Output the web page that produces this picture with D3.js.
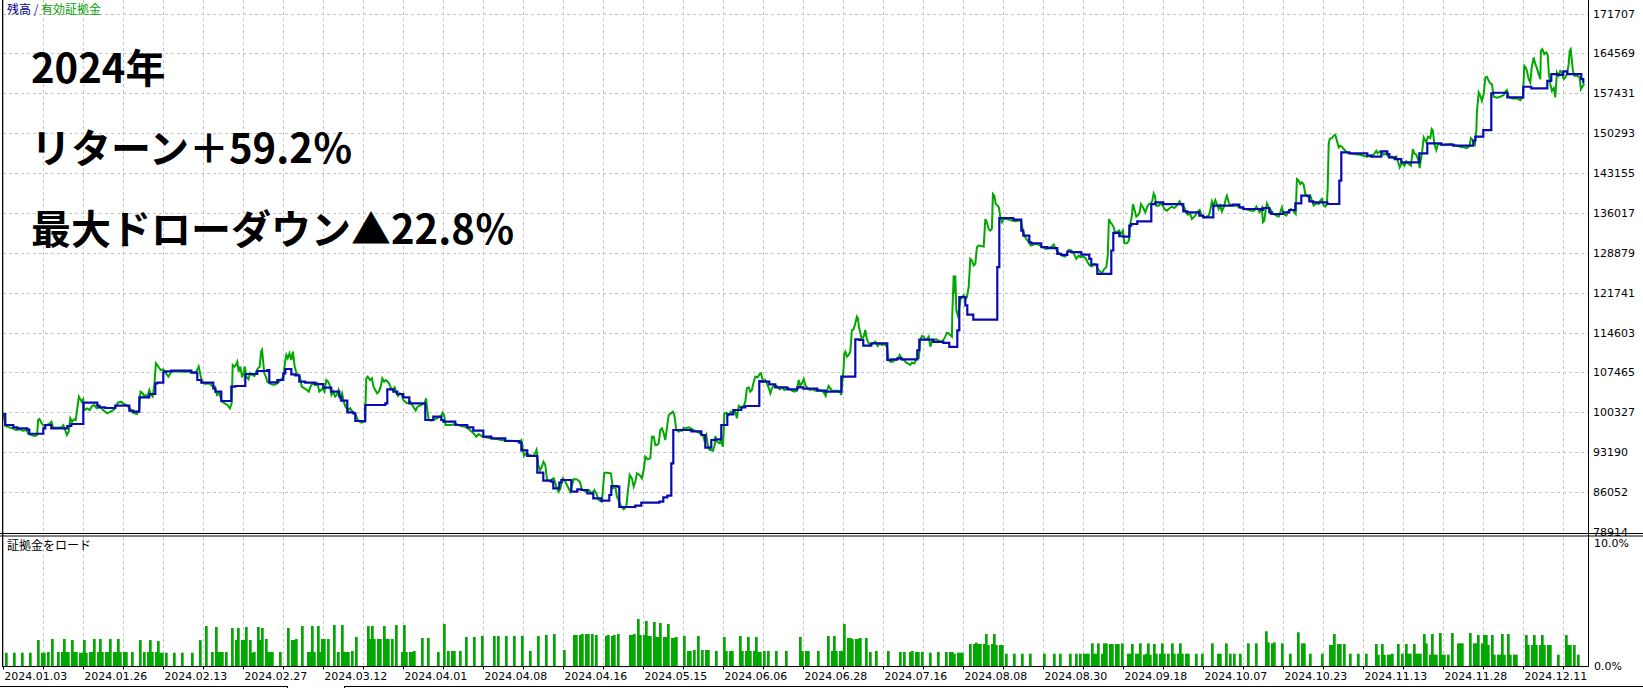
<!DOCTYPE html>
<html><head><meta charset="utf-8">
<script src="https://cdn.jsdelivr.net/npm/d3@7/dist/d3.min.js"></script>
<style>
html,body{margin:0;padding:0;background:#fff;}
svg{display:block;}
</style></head>
<body>
<svg id="chart" width="1643" height="688"></svg>
<script>
// ---------------- data ----------------
const totalDeals = 793;
const dateLabels = ["2024.01.03","2024.01.26","2024.02.13","2024.02.27","2024.03.12","2024.04.01","2024.04.08","2024.04.16","2024.05.15","2024.06.06","2024.06.28","2024.07.16","2024.08.08","2024.08.30","2024.09.18","2024.10.07","2024.10.23","2024.11.13","2024.11.28","2024.12.11"];
const dealsPerLabel = 40;
const dealsPerGrid = 20;
const yTickValues = [171707,164569,157431,150293,143155,136017,128879,121741,114603,107465,100327,93190,86052,78914];
const loadTickValues = [0,10];
const loadTickLabels = ["0.0%","10.0%"];
const headline = ["2024年","リターン＋59.2％","最大ドローダウン▲22.8％"];
const legendBalance = "残高";
const legendEquity = "有効証拠金";
const loadTitle = "証拠金をロード";

// balance: [deal, value] (step after)
const balance = [[0,100000],[1,98070],[5,97650],[7,97470],[12,97230],[13,96500],[20,97470],[21,98070],[24,97470],[32,97890],[34,98250],[40,102060],[47,101530],[48,101230],[51,101110],[56,101530],[63,100630],[65,100450],[68,103020],[73,103620],[76,105530],[77,105640],[80,107550],[81,107670],[84,107790],[94,107430],[97,106120],[99,105640],[105,104630],[106,104030],[109,102360],[114,104930],[116,105050],[121,107200],[127,107730],[132,107910],[133,105700],[137,106120],[140,107310],[141,108090],[144,107140],[146,106960],[148,105820],[151,105640],[156,105400],[160,104750],[164,104030],[168,103140],[169,102420],[172,100330],[175,100150],[176,98780],[181,101650],[191,101950],[192,104450],[195,104030],[197,103620],[200,103020],[203,101950],[211,98960],[215,99560],[219,98960],[220,98660],[226,98070],[232,97650],[235,97050],[240,95980],[244,95680],[251,95200],[258,94900],[259,93530],[262,92520],[267,89530],[270,88100],[274,87920],[275,86730],[278,87740],[279,88220],[284,86130],[287,86550],[289,86430],[292,85830],[295,84940],[299,84520],[303,85540],[304,87150],[307,87030],[308,83390],[316,83630],[319,84160],[328,84340],[330,85120],[332,85420],[334,91200],[335,97170],[344,96930],[349,96280],[351,94010],[354,95380],[356,95500],[359,98070],[362,99980],[365,100750],[369,101230],[371,101470],[378,105940],[379,105820],[383,105350],[386,104810],[392,104450],[397,104810],[400,104570],[407,104210],[411,104030],[419,106720],[426,113400],[428,113280],[430,112270],[434,112690],[442,109700],[444,109820],[447,110000],[449,109800],[457,111450],[458,113360],[465,112940],[470,112760],[473,112050],[477,115020],[478,120970],[481,119480],[482,117820],[485,116920],[497,126320],[498,135120],[505,134830],[509,132870],[510,131970],[513,130780],[514,130600],[519,129890],[522,129710],[527,128700],[529,128520],[532,129120],[534,129000],[539,128580],[543,127810],[544,126800],[547,125130],[554,129300],[555,132450],[558,131850],[560,131790],[563,133760],[564,134050],[567,134530],[574,137620],[576,137920],[580,137620],[590,136320],[592,136140],[598,135540],[600,135240],[605,137330],[615,137500],[618,137030],[620,136730],[629,136550],[630,136910],[633,136140],[634,135840],[640,136140],[643,136550],[646,137740],[649,139120],[653,138100],[655,137920],[662,137630],[668,141800],[669,146860],[673,146690],[682,146270],[684,146090],[689,147040],[692,146570],[693,145970],[696,145670],[699,145080],[708,146690],[712,148470],[719,148240],[725,148060],[735,148950],[736,149670],[740,150860],[744,157420],[745,157540],[752,156700],[760,158610],[764,158310],[772,159680],[774,160870],[777,160750],[780,161350],[782,160870],[789,159980],[790,159200]];

// equity: [deal, value]
const equity = [[0,100000],[0.5,99260],[1.1,97890],[2.9,97650],[4.6,97470],[6.4,97170],[8.1,97290],[9.9,97050],[11.6,97170],[12.5,96460],[14.3,96220],[16,96100],[16.9,96280],[17.4,98960],[18.1,99140],[19.2,98370],[20.4,97890],[23,98250],[24.1,98660],[24.8,97650],[26.5,97590],[29.2,97650],[30,98010],[30.9,97170],[31.8,96280],[32.7,96870],[33.5,99260],[34.4,98660],[35.3,99080],[36.2,98960],[37.1,101350],[37.8,103140],[38.5,102660],[39.2,102240],[39.9,102660],[40.6,100750],[42,101050],[43.2,100750],[44.4,101470],[45.5,101650],[46.7,101050],[48.4,101350],[50.2,100630],[52,100160],[53.7,100450],[55.5,100870],[57.2,102060],[59,102240],[59.8,101950],[61.6,101650],[63.3,101050],[64.7,100270],[66.8,100040],[67.9,100750],[68.6,104030],[69.5,103850],[70.4,103260],[71.2,103440],[72.1,103140],[73,104330],[73.9,103440],[74.7,103140],[75.6,105530],[76.3,109110],[77,108810],[77.7,108390],[78.8,107910],[80,108030],[81.7,107140],[82.6,106720],[83.5,107320],[84.4,107610],[86.1,107670],[89.6,107610],[93.1,107610],[95.8,107440],[97,107910],[97.7,108510],[98.4,107320],[99.3,105820],[101,105410],[102.8,105530],[104.5,105050],[105.8,104930],[106.8,103440],[108,103740],[109.3,102240],[110.7,101950],[112.1,101650],[113.3,101050],[114.2,101950],[114.7,108810],[115.6,108510],[116.3,108810],[117,109400],[117.7,107610],[118.5,108510],[119.4,106600],[120.1,107320],[120.8,108510],[121.5,106720],[122.6,106240],[123.3,107320],[124.3,107020],[125.6,106840],[126.4,107610],[127.3,108210],[128.2,108510],[128.9,111190],[129.4,111490],[130,109110],[130.5,107320],[131.3,106720],[132,105820],[133.1,105530],[135.2,105230],[137,105530],[138.7,106120],[140.1,106720],[140.8,109110],[141.5,110600],[142.2,110000],[143.1,110900],[144,109700],[144.8,111190],[145.7,108510],[146.6,107320],[147.5,107020],[148.3,106720],[149.2,104930],[150.6,104630],[151.8,104330],[152.7,104030],[153.6,104930],[154.5,105530],[155.9,105230],[157.1,105530],[158,104030],[158.9,104330],[159.7,104630],[160.6,104030],[161.5,106120],[162.4,105820],[163.2,105230],[164.1,103440],[165,104030],[165.9,103140],[166.7,103440],[167.6,104330],[168.5,102840],[169.4,103740],[170.2,102240],[171.1,101350],[172.4,100750],[173.4,101050],[174.6,100450],[175.9,100040],[177.3,98960],[179,98480],[180.8,98660],[181.5,106420],[182.2,106720],[183.4,106120],[184.3,106420],[185.1,104930],[186,104330],[186.9,103740],[187.8,104030],[188.7,104930],[189.5,106420],[190.4,105820],[191.3,106120],[192.7,105640],[193.9,104630],[194.8,104330],[195.7,104810],[196.5,103740],[197.4,103260],[198.3,103740],[199.2,103440],[200,102540],[201.8,101950],[203.5,102240],[205,101350],[206.2,100630],[207.1,101350],[208.8,101650],[210.6,101950],[211.4,102840],[212,100750],[212.7,98960],[214.1,98840],[215.8,99080],[217.6,99440],[219,99680],[219.7,100270],[220.4,99860],[221.1,98070],[223.7,98070],[226.3,98250],[229,97890],[231.6,97650],[233.3,97170],[235.1,96580],[236.5,95980],[237.7,96460],[239.5,95980],[241.2,95860],[243.9,95680],[247.4,95500],[250.9,95260],[254.4,95260],[257.9,95080],[259,95380],[259.6,94310],[260.3,92520],[261.4,92990],[263.1,92700],[264.9,92520],[265.9,92990],[266.6,93590],[267.5,90910],[268.4,90010],[269.3,90610],[270.1,91500],[271,90910],[271.9,88220],[273.3,88040],
[274.3,88340],[275.2,88520],[276,87620],[276.8,86730],[277.7,86130],[278.5,86730],[279.8,88520],[281,87920],[283.5,86130],[285.2,88400],[286.8,88340],[288.2,87920],[289.3,86550],[291,86130],[292.7,86430],[294.3,85830],[295.5,86430],[296.5,85830],[297.7,84640],[299.3,84340],[300.5,89530],[301.8,89530],[303.8,89410],[304.8,86730],[306,87030],[306.8,85240],[307.7,84640],[308.5,83750],[310.2,82970],[311.5,83450],[312.2,85830],[313.2,89120],[314.3,88520],[315.2,87030],[316,87920],[316.8,89410],[318.2,89120],[319.3,88520],[320.2,90010],[321,92400],[322.2,91920],[323.5,92100],[324.3,95980],[325.2,95980],[326,94490],[326.8,94490],[327.7,94780],[328.5,97170],[329.3,97470],[330.2,96570],[331,95380],[331.8,97470],[332.7,99860],[333.8,100150],[334.8,100450],[335.5,99860],[336.5,97170],[337.7,96870],[338.5,97170],[339.3,97050],[340.2,97590],[341,97470],[342.7,97650],[343.8,97470],[345.2,97170],[346.8,96870],[348.5,96570],[349.8,96280],[350.5,95380],[351.5,96280],[352.2,94490],[353.2,93590],[353.8,93590],[354.8,93470],[355.7,94490],[356,96100],[356.8,95080],[358.2,94780],[358.8,95380],[359.8,94190],[360.2,96870],[360.5,100150],[361.5,100270],[362.7,99860],[363.8,100450],[364.8,100150],[366,100450],[366.8,99260],[367.7,101470],[368.5,101230],[370.2,101470],[371,102240],[371.8,104630],[372.7,104810],[373.5,104030],[374.3,104330],[375.2,105820],[376,106720],[377.2,106600],[378.2,107200],[378.8,107320],[379.5,106420],[380.2,105820],[381,106120],[381.8,105530],[382.8,104630],[383.5,103730],[384.3,104630],[385.5,105230],[386.8,105050],[388.2,104450],[389.3,104810],[390.5,104330],[391.8,104630],[392.8,104630],[394.3,104210],[395.5,104030],[396.8,104210],[397.7,106120],[398.5,105050],[399.5,105650],[400.2,106300],[401,105230],[401.8,104810],[403.2,104330],[404.8,104450],[406,104210],[407.7,104330],[409.3,104210],[410.5,103730],[411.2,103260],[411.8,104210],[412.7,105050],[413.5,104630],[414.3,104210],[416,104210],[417.7,104210],[418.5,103850],[419,103440],[419.5,105650],[420.2,108510],[420.5,110900],[421,111190],[421.8,110300],[422.7,110600],[423.5,111190],[424.3,115070],[425.2,115190],[426,116270],[426.8,117460],[427.3,117160],[427.8,115670],[428.5,114480],[429.3,113400],[430.2,113880],[431,115070],[431.8,113400],[432.7,112690],[433.5,112390],[434.8,112690],[436,112980],[437.2,112210],[438.2,112690],[439.3,112390],[440.5,112570],[441.8,112090],[442.7,109700],[443.5,109400],[444.8,109400],[446,109700],[447.2,109820],[448.2,110600],[448.8,110180],[450.2,109700],[451.5,109220],[452.7,108990],[453.5,108810],[454.3,109220],[455.5,109100],[456.5,109820],[457.7,110000],[458.5,113280],[459.3,114000],[460.2,113880],[461,113280],[461.8,113400],[462.7,113880],[463.5,112090],[464.3,112980],[465.2,113280],[466.5,113400],[467.7,113160],[468.5,112980],[469.8,113160],[471,113880],[471.8,114590],[472.7,114480],[473.5,114180],[474.3,113880],[474.5,118000],
[475.2,124840],[475.7,121560],[476,124840],[476.5,118590],[477.2,117700],[477.8,118590],[478.5,120370],[479.3,120970],[480.2,121270],[481,120490],[481.8,120970],[482.7,122750],[483.5,127810],[484.3,127510],[485.2,126620],[486,126920],[486.8,129890],[487.7,130190],[489.3,130070],[490.2,130010],[491,134950],[491.8,134350],[492.7,133160],[493.5,132870],[494.3,133160],[494.8,139410],[495.5,139110],[496.2,137620],[497.2,137330],[497.8,137030],[498.5,135240],[499.3,134350],[500.2,134950],[501.8,134950],[503.5,134770],[506,134530],[507.7,134650],[508.8,134650],[509.8,132870],[511,131680],[512.7,130780],[513.8,130190],[515.2,130370],[516.8,130490],[518.5,130190],[519.8,129890],[521,129590],[522.2,129710],[523.5,129890],[524.3,130010],[525.2,130370],[526,129770],[526.8,129300],[528.2,128700],[529.3,128400],[531,128230],[531.8,128700],[532.7,129420],[533.8,129300],[535.2,128820],[536.5,127810],[537.7,128400],[538.5,128110],[539.8,128230],[541,127990],[542.2,127210],[543.2,126620],[544.3,126440],[545.5,126920],[546.5,126620],[547.2,126020],[548.2,125610],[549.3,125250],[550.5,126020],[551.5,126320],[552.2,128230],[552.8,134950],[553.5,134350],[554.3,134050],[555.2,133460],[556,132390],[556.8,132570],[557.8,132870],[558.8,132270],[559.8,132870],[560.5,130600],[561.8,130600],[562.8,131080],[563.5,134050],[564.3,135540],[564.8,137620],[565.5,136730],[566.5,135360],[567.2,135540],[568.2,136140],[568.8,137620],[569.8,137030],[571,136140],[571.8,137030],[572.8,137620],[573.8,137740],[574.5,138220],[575.2,139530],[575.8,139110],[576.5,137330],[577.7,137330],[578.5,137740],[579.8,137330],[580.5,136730],[581.8,136430],[583.2,136910],[584.3,137150],[585.5,136910],[586.8,137330],[588.2,138100],[589.3,137330],[590.5,137030],[591.5,135960],[592.2,135720],[593.5,135840],[594.3,134950],[595.2,135240],[596,135540],[596.8,136140],[598.2,136550],[599.2,135540],[600.2,135240],[601.5,135360],[602.7,135540],[603.5,136550],[604.3,138100],[605.2,137330],[606,138340],[606.8,137620],[607.7,136730],[608.5,137330],[609.3,136320],[610.5,137330],[611.2,138520],[611.8,139110],[612.7,137920],[613.5,137330],[614.3,137500],[616,137330],[617.7,137150],[619.3,136910],[621,136730],[622.7,136550],[624.3,136430],[625.5,136430],[626.5,137150],[627.2,136730],[628.2,136140],[629.3,136910],[629.8,134350],[630.5,134650],[631.2,136550],[631.8,137740],[632.7,137030],[633.8,136550],[635.2,135840],[636.5,135540],[637.7,135360],[638.5,136140],[639.3,137030],[640.2,135840],[641.5,135540],[642.7,136430],[643.8,136730],[645.2,136320],[646.2,135840],[646.8,142080],[647.7,141790],
[648.5,141200],[649.3,141500],[650.2,141080],[651,139410],[652.2,138940],[653.5,139120],[654.3,138220],[655.2,137330],[656.5,137740],[657.7,137630],[658.5,138220],[659.3,138520],[660.2,137330],[661,137150],[661.8,137630],[662.2,140610],[662.7,148360],[663.2,149250],[664.3,149430],[665.2,149850],[666,150020],[666.8,148950],[667.7,147760],[668.5,148060],[669.3,147880],[670.2,147460],[671.8,146860],[675.2,146570],[678.5,146450],[681.8,146090],[683.5,146270],[685.2,146450],[686.5,147160],[687.2,146690],[688.2,147040],[689.3,146860],[690.2,146450],[691.5,146690],[692.7,145970],[694.3,146090],[695.5,145670],[696.5,146090],[697.2,145370],[698.2,144180],[699.3,145080],[700.5,144480],[701.5,145260],[702.7,144780],[703.8,144480],[704.8,147460],[705.5,146690],[706.5,146450],[707.7,145260],[708.2,144060],[708.8,145670],[709.3,146570],[710.2,149550],[711.5,148650],[712.3,149670],[713.5,149430],[714.2,151040],[714.8,150740],[715.5,148360],[716.5,147280],[717.2,148240],[718.2,148360],[719.3,148240],[721,148240],[723.5,148360],[725.2,148180],[726.8,148060],[728.5,147880],[730.2,147760],[731.8,147640],[733.2,148060],[733.8,149430],[734.8,149070],[735.8,148360],[736.5,150740],[736.8,154020],[737.7,157590],[738.5,157000],[739.3,156100],[740.2,157300],[741,160280],[741.8,160400],[742.7,159680],[743.5,159200],[744.3,159080],[745.2,156820],[746.8,156640],[748.5,156820],[750.2,157120],[751,157710],[751.8,158010],[752.7,156820],[754.3,156520],[756.8,156520],[758.5,156220],[759.8,156820],[760.5,162360],[761.2,162070],[761.8,161470],[762.7,159980],[763.5,159380],[764.2,162070],[765.2,163850],[766,162660],[766.8,161950],[767.7,160870],[768.5,159980],[768.8,165050],[769.5,165340],[770.5,164450],[771.5,164750],[772.2,164330],[772.8,160870],[773.5,159080],[774.3,157890],[775.2,158370],[776,156700],[776.8,161170],[777.7,160580],[778.5,161470],[779.3,161170],[780.2,159980],[781,160280],[781.8,160870],[782.7,162660],[783.2,165050],[783.7,165340],[784.3,163260],[784.8,161470],[785.5,160580],[786.8,160580],[788.2,160280],[788.8,158190],[789.8,158790],[790.5,159080]];

// margin load: [deal, percent]
const marginLoad = [[1,1.08],[5,1.08],[9,1.08],[13,1.08],[17,2.11],[19,1.08],[20,1.08],[22,1.14],[24,2.2],[27,1.14],[29,1.14],[30,2.2],[31,1.14],[32,1.14],[34,2.11],[35,1.14],[36,1.14],[38,1.08],[39,1.08],[40,2.11],[41,1.08],[43,1.14],[44,1.14],[45,2.2],[47,1.14],[48,2.2],[49,1.14],[51,1.14],[52,1.14],[53,2.2],[55,1.14],[56,1.14],[57,2.2],[58,1.14],[60,1.14],[61,1.14],[64,1.14],[68,2.11],[70,1.14],[72,1.14],[73,2.11],[74,1.14],[76,1.14],[77,2.03],[78,1.08],[79,1.08],[81,1.08],[85,1.08],[89,1.08],[94,1.08],[98,2.11],[101,3.25],[104,1.14],[106,3.17],[107,1.14],[108,1.14],[109,1.14],[111,1.14],[114,3.09],[116,2.11],[117,3.09],[119,2.11],[120,2.11],[121,3.17],[123,2.11],[124,1.08],[125,1.14],[127,3.17],[128,2.11],[129,3.09],[131,2.2],[132,1.14],[133,1.14],[134,1.14],[138,1.14],[142,3.09],[144,2.11],[145,2.11],[146,2.2],[149,3.25],[152,1.14],[153,1.14],[154,3.25],[155,1.14],[157,3.25],[158,1.14],[159,2.2],[160,2.2],[162,2.2],[165,3.33],[167,1.14],[169,3.33],[170,1.14],[171,1.14],[172,1.14],[174,1.22],[176,2.36],[182,3.25],[183,2.2],[184,3.25],[185,2.2],[187,2.2],[188,2.2],[190,3.25],[191,2.2],[192,2.2],[194,2.2],[196,3.33],[199,1.14],[200,3.33],[201,1.14],[203,1.14],[204,1.14],[205,1.22],[209,2.28],[212,2.28],[217,1.14],[220,3.41],[222,1.22],[224,1.22],[225,1.22],[228,1.22],[231,2.36],[235,2.36],[239,2.44],[245,2.44],[247,2.44],[251,2.44],[255,2.44],[259,2.44],[263,1.22],
[267,2.44],[271,2.52],[275,2.6],[280,1.3],[285,2.52],[286,2.52],[288,2.52],[289,2.6],[291,2.6],[292,2.6],[294,2.6],[296,2.52],[301,2.44],[302,2.52],[304,2.44],[305,2.52],[307,2.6],[313,2.52],[314,2.52],[315,2.6],[317,3.82],[318,2.52],[320,2.52],[321,3.66],[322,2.44],[323,2.44],[325,3.58],[326,2.36],[327,2.36],[328,3.5],[330,2.36],[331,2.36],[332,3.41],[334,2.28],[335,2.28],[336,2.36],[340,2.44],[342,1.22],[343,1.22],[345,1.3],[347,2.44],[349,1.3],[351,1.3],[352,1.3],[356,1.22],[360,2.36],[361,1.22],[363,1.22],[364,1.22],[368,2.44],[369,1.22],[371,1.22],[372,2.36],[373,1.22],[375,1.22],[376,2.36],[377,1.14],[378,1.14],[380,1.22],[382,1.22],[386,1.22],[391,1.22],[398,2.36],[399,1.22],[401,1.22],[402,1.22],[407,1.22],[412,2.44],[414,1.22],[415,2.44],[416,1.22],[418,1.22],[419,1.22],[420,3.41],[422,2.28],[423,2.28],[424,2.2],[426,2.2],[427,2.2],[428,2.28],[431,2.28],[433,1.14],[436,1.22],[442,1.22],[448,1.14],[450,1.14],[453,1.14],[454,1.22],[456,1.14],[457,1.14],[459,1.14],[463,1.08],[467,1.14],[471,1.14],[473,1.14],[474,1.14],[475,1.0],[477,1.08],[478,1.08],[479,1.08],[483,1.79],[485,1.79],[486,1.9],[487,1.79],[488,1.79],[490,1.79],[491,2.6],[492,1.71],[494,1.79],[495,2.6],[496,1.71],[498,1.71],[499,1.71],[501,1.0],[505,1.0],[509,1.0],[513,1.0],[520,1.0],[525,1.0],
[528,1.0],[533,1.0],[536,1.0],[538,1.0],[540,1.0],[541,1.0],[542,1.0],[544,1.84],[545,1.0],[546,1.0],[547,1.84],[549,1.0],[550,1.84],[551,1.84],[553,1.79],[554,1.79],[556,1.79],[557,1.79],[559,1.84],[562,1.0],[563,1.0],[564,1.79],[566,1.0],[567,1.0],[568,1.84],[570,0.92],[571,1.0],[572,1.84],[573,0.92],[575,1.79],[576,1.0],[578,1.0],[579,1.84],[580,1.0],[582,1.0],[584,1.84],[585,1.0],[587,1.0],[588,1.84],[589,1.0],[591,1.0],[592,1.0],[596,1.0],[599,1.0],[604,1.84],[607,1.0],[608,1.0],[611,1.84],[613,1.0],[615,1.0],[618,1.0],[622,1.84],[626,1.84],[631,2.82],[632,1.92],[634,1.84],[635,1.92],[639,1.84],[643,1.0],[647,2.74],[649,1.84],[650,1.84],[653,1.0],[659,1.0],[663,1.71],[664,1.71],[665,2.6],[667,1.79],[668,1.79],[670,1.79],[673,1.0],[677,1.0],[681,1.0],[686,1.79],[687,0.92],[689,1.79],[690,0.92],[692,0.92],[693,0.92],[694,1.0],[697,1.79],[699,1.0],[701,1.79],[702,1.0],[703,1.0],[705,1.79],[706,1.0],[707,1.0],[708,1.0],[710,2.6],[711,1.84],[713,0.92],[714,2.6],[715,0.92],[716,0.92],[718,2.68],[719,0.92],[720,0.92],[722,0.92],[724,2.68],[727,1.84],[728,1.84],[729,1.84],[733,2.68],[735,1.84],[736,1.84],[737,2.52],[739,1.84],[740,2.52],[741,2.52],[742,1.71],[744,2.52],[745,0.92],[747,0.92],[748,0.92],[749,2.6],[750,0.92],[752,2.6],[753,0.92],[755,0.92],[756,0.92],[761,2.52],[762,1.71],[764,1.71],[765,2.52],[766,1.71],[768,1.71],[769,2.52],[770,1.71],[772,1.71],[773,1.71],[777,0.92],[781,2.52],[782,1.71],[783,1.71],[785,1.71],[787,0.92]];

// ---------------- drawing ----------------
const W = 1643, H = 688;
const svg = d3.select("#chart");
const axisFont = "'DejaVu Sans', Verdana, sans-serif";
const cjkFont = "'Noto Sans CJK JP', 'Noto Sans CJK SC', sans-serif";

const plotLeft = 3.3, plotRight = 1589.3, axisX = 1588.5;
const mainTop = 0, mainBottom = 533.5;
const subTop = 536, subBase = 666.5;

const x = d3.scaleLinear().domain([0, totalDeals]).range([plotLeft, plotRight]);
const y = d3.scaleLinear().domain([78914, 171707]).range([532, 13.6]);
const yl = d3.scaleLinear().domain([0, 10]).range([666, 543]);

svg.append("rect").attr("width", W).attr("height", H).attr("fill", "#fff");

const defs = svg.append("defs");
defs.append("clipPath").attr("id", "mainClip").append("rect")
  .attr("x", 3).attr("y", 0).attr("width", axisX - 3).attr("height", mainBottom - 0.5);
defs.append("clipPath").attr("id", "labelClip").append("rect")
  .attr("x", 0).attr("y", 0).attr("width", W).attr("height", 536);

const gridDeals = d3.range(dealsPerGrid, totalDeals - 5, dealsPerGrid);
const gridColor = "#c4c4c4";

// vertical grid lines (both panes)
const vg = svg.append("g").attr("stroke", gridColor).attr("stroke-width", 1).attr("stroke-dasharray", "3,3");
gridDeals.forEach(d => {
  const xx = Math.round(x(d)) + 0.5;
  vg.append("line").attr("x1", xx).attr("x2", xx).attr("y1", mainTop).attr("y2", mainBottom - 1);
  vg.append("line").attr("x1", xx).attr("x2", xx).attr("y1", subTop + 1).attr("y2", subBase - 1);
});
// horizontal grid lines
yTickValues.forEach(v => {
  const yy = Math.round(y(v)) + 0.5;
  if (yy < mainBottom - 1) {
    vg.append("line").attr("x1", 3).attr("x2", axisX).attr("y1", yy).attr("y2", yy);
  }
});

// lines
const lineG = svg.append("g").attr("clip-path", "url(#mainClip)");
const lineGen = d3.line().x(d => x(d[0])).y(d => y(d[1]));
const stepGen = d3.line().x(d => x(d[0])).y(d => y(d[1])).curve(d3.curveStepAfter);
lineG.append("path").datum(equity).attr("d", lineGen)
  .attr("fill", "none").attr("stroke", "#00a800").attr("stroke-width", 2).attr("stroke-linejoin", "miter");
lineG.append("path").datum(balance).attr("d", stepGen)
  .attr("fill", "none").attr("stroke", "#0a0aae").attr("stroke-width", 2.2).attr("stroke-linejoin", "miter");

// right axis labels (main)
const labG = svg.append("g").attr("clip-path", "url(#labelClip)");
labG.selectAll("text.yl").data(yTickValues).enter().append("text")
  .attr("x", 1593).attr("y", d => y(d)).attr("dy", "0.36em")
  .attr("font-family", axisFont).attr("font-size", 11).attr("fill", "#000")
  .text(d => d);

// lower panel bars
const barG = svg.append("g");
barG.selectAll("rect").data(marginLoad).enter().append("rect")
  .attr("x", d => x(d[0]) - 0.3).attr("width", 2.7)
  .attr("y", d => yl(d[1])).attr("height", d => yl(0) - yl(d[1]))
  .attr("fill", "#00a800");

// lower panel labels
svg.selectAll("text.ll").data(loadTickValues).enter().append("text")
  .attr("x", 1594).attr("y", d => yl(d)).attr("dy", "0.36em")
  .attr("font-family", axisFont).attr("font-size", 11).attr("fill", "#000")
  .text((d, i) => loadTickLabels[i]);

// frame lines
const fr = svg.append("g").attr("stroke", "#000").attr("stroke-width", 1).attr("fill", "none");
fr.append("line").attr("x1", 2.5).attr("x2", 2.5).attr("y1", 0).attr("y2", subBase);
fr.append("line").attr("x1", 3).attr("x2", 3).attr("y1", 0).attr("y2", subBase).attr("stroke-width", 0.6);
fr.append("line").attr("x1", axisX).attr("x2", axisX).attr("y1", 0).attr("y2", subBase);
fr.append("line").attr("x1", 0).attr("x2", W).attr("y1", mainBottom).attr("y2", mainBottom);
fr.append("line").attr("x1", 0).attr("x2", W).attr("y1", subTop).attr("y2", subTop);
fr.append("line").attr("x1", 2).attr("x2", axisX).attr("y1", subBase).attr("y2", subBase);
// bottom ticks
[0].concat(gridDeals).forEach(d => {
  const xx = Math.round(x(d)) + 0.5;
  fr.append("line").attr("x1", xx).attr("x2", xx).attr("y1", subBase).attr("y2", subBase + 3);
});
// bottom tab strips
fr.append("line").attr("x1", 0).attr("x2", 287.5).attr("y1", 686.5).attr("y2", 686.5);
fr.append("line").attr("x1", 287.5).attr("x2", 287.5).attr("y1", 686).attr("y2", 688);
fr.append("line").attr("x1", 344.5).attr("x2", W).attr("y1", 686.5).attr("y2", 686.5);
fr.append("line").attr("x1", 344.5).attr("x2", 344.5).attr("y1", 686).attr("y2", 688);

// date labels
svg.selectAll("text.dl").data(dateLabels).enter().append("text")
  .attr("x", (d, i) => x(i * dealsPerLabel) + 1).attr("y", 679.5)
  .attr("font-family", axisFont).attr("font-size", 11).attr("fill", "#000")
  .text(d => d);

// legend
const leg = svg.append("text").attr("x", 7).attr("y", 14)
  .attr("font-family", cjkFont).attr("font-size", 12);
leg.append("tspan").attr("fill", "#00008b").text(legendBalance);
leg.append("tspan").attr("fill", "#1c2aa0").text(" / ");
leg.append("tspan").attr("fill", "#00a000").text(legendEquity);

svg.append("text").attr("x", 7).attr("y", 550)
  .attr("font-family", cjkFont).attr("font-size", 12).attr("fill", "#000")
  .text(loadTitle);

// headline text
const baselines = [83, 163, 244];
svg.selectAll("text.hl").data(headline).enter().append("text")
  .attr("x", 31).attr("y", (d, i) => baselines[i])
  .attr("font-family", cjkFont).attr("font-weight", 700).attr("font-size", 40).attr("fill", "#000")
  .text(d => d);
</script>
</body></html>
